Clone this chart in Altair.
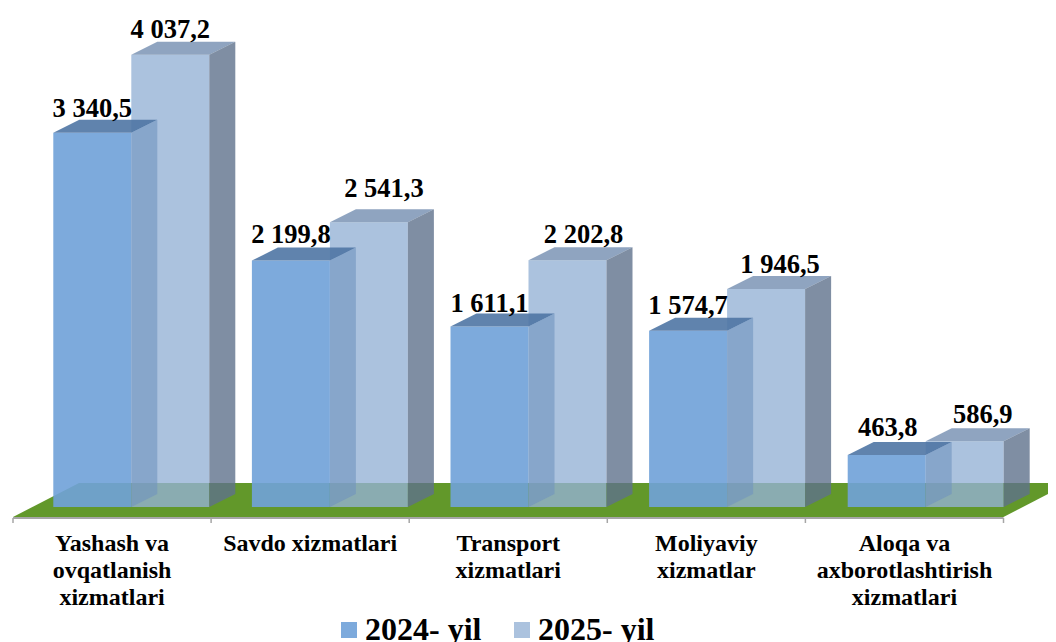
import altair as alt
import pandas as pd

# --- chart values ---
categories = ["Yashash va\novqatlanish\nxizmatlari", "Savdo xizmatlari", "Transport\nxizmatlari",
              "Moliyaviy\nxizmatlar", "Aloqa va\naxborotlashtirish\nxizmatlari"]
series_names = ["2024- yil", "2025- yil"]
values_2024 = [3340.5, 2199.8, 1611.1, 1574.7, 463.8]
values_2025 = [4037.2, 2541.3, 2202.8, 1946.5, 586.9]
labels_2024 = ["3 340,5", "2 199,8", "1 611,1", "1 574,7", "463,8"]
labels_2025 = ["4 037,2", "2 541,3", "2 202,8", "1 946,5", "586,9"]

# --- layout ---
W, H = 1040, 634
PX_X = 198.1            # pixels per category slot
PX_Y = 0.112            # pixels per value unit
X_ORIGIN = 13 - 8       # first tick, from the left of the plot
Y_ORIGIN = 507 - 8      # value 0, from the top of the plot
FONT = "Liberation Serif"

def ux(px):
    return px / PX_X

def uy(px):
    return px / PX_Y

X_DOMAIN = [ux(-X_ORIGIN), ux(W - X_ORIGIN)]
Y_DOMAIN = [-uy(H - Y_ORIGIN), uy(Y_ORIGIN)]
xs = alt.Scale(domain=X_DOMAIN, nice=False, zero=False)
ys = alt.Scale(domain=Y_DOMAIN, nice=False, zero=False)

BAR_W = ux(78)
DEPTH_X = ux(26)
DEPTH_Y = uy(13)
GROUP_START = ux(40.3)
GROUP_STEP = ux(198.6)
FLOOR_FRONT = -uy(10)
FLOOR_BACK = uy(24)
FLOOR_SHIFT = ux(66)
LABEL_SHIFT_2024 = [0, 0, 0, 0, 1]
LABEL_SHIFT_2025 = [0, 15, 16, 14, 18]
LABEL_LIFT_2024 = [24, 26, 23, 25, 27]
LABEL_LIFT_2025 = [25, 33, 25, 24, 26]

COLORS = ["rgba(112,162,216,0.91)", "rgba(149,177,213,0.79)"]
TOP = {"2024- yil": "rgba(79,118,164,0.9)", "2025- yil": "rgba(115,141,176,0.8)"}
SIDE = {"2024- yil": "rgba(111,146,190,0.6)", "2025- yil": "rgba(95,114,140,0.8)"}


def frames(name, vals, labs, slot, shifts, lifts):
    front, top, side, text = [], [], [], []
    for i, v in enumerate(vals):
        l = GROUP_START + i * GROUP_STEP + slot * BAR_W
        r = l + BAR_W
        front.append(dict(s=name, l=l, r=r, v=v, z=0))
        top.append(dict(id=i, y=v, a=l, b=r))
        top.append(dict(id=i, y=v + DEPTH_Y, a=l + DEPTH_X, b=r + DEPTH_X))
        side.append(dict(id=i, x=r, y=v, y2=0))
        side.append(dict(id=i, x=r + DEPTH_X, y=v + DEPTH_Y, y2=DEPTH_Y))
        text.append(dict(x=(l + r) / 2 + ux(shifts[i]), y=v + uy(lifts[i]), t=labs[i]))
    return [pd.DataFrame(d) for d in (front, top, side, text)]


color_scale = alt.Scale(domain=series_names, range=COLORS)
legend = alt.Legend(
    title=None, orient="none", legendX=325, legendY=606, direction="horizontal",
    symbolType="square", symbolSize=256, symbolStrokeWidth=0, labelFont=FONT,
    labelFontSize=32, labelFontWeight="bold", labelColor="black", columnPadding=24,
    labelOffset=0, labelLimit=200, padding=0, symbolOffset=0,
)


def cube(name, df_f, df_t, df_s, with_legend):
    f = alt.Chart(df_f).mark_bar(cornerRadius=0).encode(
        x=alt.X("l:Q", scale=xs, axis=None), x2="r:Q",
        y=alt.Y("v:Q", scale=ys, axis=None), y2="z:Q",
        color=alt.Color("s:N", scale=color_scale, legend=legend if with_legend else None),
    )
    t = alt.Chart(df_t).mark_area(orient="horizontal", color=TOP[name]).encode(
        y=alt.Y("y:Q", scale=ys, axis=None), x=alt.X("a:Q", scale=xs, axis=None), x2="b:Q", detail="id:N",
    )
    s = alt.Chart(df_s).mark_area(color=SIDE[name]).encode(
        x=alt.X("x:Q", scale=xs, axis=None), y=alt.Y("y:Q", scale=ys, axis=None), y2="y2:Q", detail="id:N",
    )
    return [f, t, s]


f1, t1, s1, txt1 = frames(series_names[0], values_2024, labels_2024, 0, LABEL_SHIFT_2024, LABEL_LIFT_2024)
f2, t2, s2, txt2 = frames(series_names[1], values_2025, labels_2025, 1, LABEL_SHIFT_2025, LABEL_LIFT_2025)

n = len(categories)
floor_df = pd.DataFrame([
    dict(y=FLOOR_FRONT, a=0, b=n),
    dict(y=FLOOR_BACK, a=FLOOR_SHIFT, b=n + FLOOR_SHIFT),
])
floor = alt.Chart(floor_df).mark_area(orient="horizontal", color="#62982a", clip=True).encode(
    y=alt.Y("y:Q", scale=ys, axis=None), x=alt.X("a:Q", scale=xs, axis=None), x2="b:Q",
)

axis_line = alt.Chart(pd.DataFrame([dict(a=0, b=n, y=FLOOR_FRONT - uy(1))])).mark_rule(
    color="#a6a6a6", strokeWidth=2).encode(
    x=alt.X("a:Q", scale=xs, axis=None), x2="b:Q", y=alt.Y("y:Q", scale=ys, axis=None))
ticks = alt.Chart(pd.DataFrame([dict(x=i, y=FLOOR_FRONT - uy(1), y2=FLOOR_FRONT - uy(6)) for i in range(n + 1)])).mark_rule(
    color="#a6a6a6", strokeWidth=1.5).encode(
    x=alt.X("x:Q", scale=xs, axis=None), y=alt.Y("y:Q", scale=ys, axis=None), y2="y2:Q")

cat_df = pd.DataFrame([dict(x=i + 0.5, y=-uy(25), t=c) for i, c in enumerate(categories)])
cat_text = alt.Chart(cat_df).mark_text(
    font=FONT, fontSize=24, fontWeight="bold", color="black", baseline="top", align="center",
    lineBreak="\n", lineHeight=27).encode(
    x=alt.X("x:Q", scale=xs, axis=None), y=alt.Y("y:Q", scale=ys, axis=None), text="t:N")


def value_text(df):
    return alt.Chart(df).mark_text(
        font=FONT, fontSize=26.5, fontWeight="bold", color="black", baseline="middle", align="center").encode(
        x=alt.X("x:Q", scale=xs, axis=None), y=alt.Y("y:Q", scale=ys, axis=None), text="t:N")


layers = [floor, axis_line, ticks]
layers += cube(series_names[1], f2, t2, s2, True)
layers += cube(series_names[0], f1, t1, s1, False)
layers += [value_text(txt1), value_text(txt2), cat_text]

chart = alt.layer(*layers).properties(
    width=W, height=H, padding=0, autosize=alt.AutoSizeParams(type="none"),
).configure_view(stroke=None)

chart.save("out.html", embed_options={"renderer": "svg", "actions": False})
